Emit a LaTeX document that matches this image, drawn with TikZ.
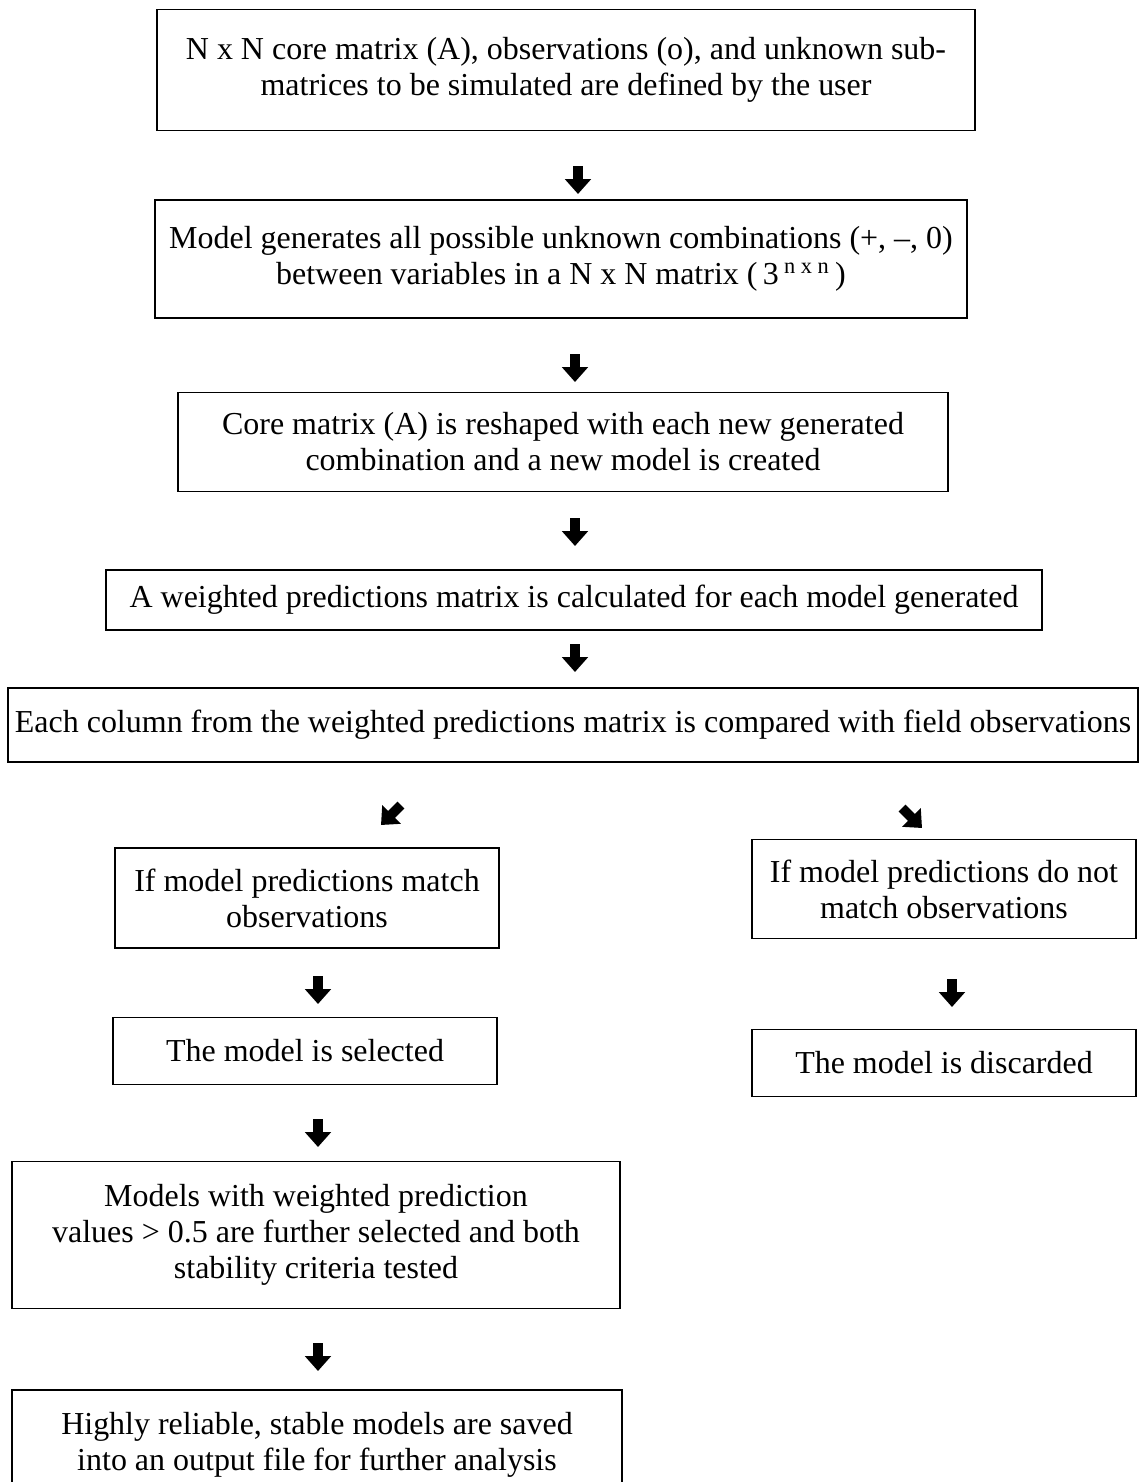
\documentclass[tikz,border=0pt]{standalone}
\usepackage{fontspec}
\setmainfont{Liberation Serif}
\usetikzlibrary{arrows.meta}

\begin{document}
\begin{tikzpicture}[x=0.02cm, y=-0.02cm,
    stepbox/.style={draw, line width=1.1pt, align=center, inner sep=0pt,
        font=\fontsize{18.2}{20.5}\selectfont},
    blk/.style={line width=5.5pt, -{Triangle[length=8.5pt, width=14.5pt]}}]
    \useasboundingbox (0,0) rectangle (1142,1482);

    % main column
    \node[stepbox, minimum width=16.36cm, minimum height=2.42cm] (def) at (566,70)
        {N x N core matrix (A), observations (o), and unknown sub-\\matrices to be simulated are defined by the user};
    \node[stepbox, minimum width=16.26cm, minimum height=2.36cm] (gen) at (561,259)
        {Model generates all possible unknown combinations (+, --, 0)\\between variables in a N x N matrix (\,3\,\textsuperscript{n x n}\,)};
    \node[stepbox, minimum width=15.4cm, minimum height=1.98cm] (resh) at (563,442)
        {Core matrix (A) is reshaped with each new generated\\combination and a new model is created};
    \node[stepbox, minimum width=18.74cm, minimum height=1.2cm] (wpm) at (574,600)
        {A weighted predictions matrix is calculated for each model generated};
    \node[stepbox, minimum width=22.6cm, minimum height=1.48cm] (comp) at (573,725)
        {Each column from the weighted predictions matrix is compared with field observations};

    % left branch
    \node[stepbox, minimum width=7.7cm, minimum height=2.0cm] (match) at (307,898)
        {If model predictions match\\observations};
    \node[stepbox, minimum width=7.7cm, minimum height=1.34cm] (sel) at (305,1051)
        {The model is selected};
    \node[stepbox, minimum width=12.18cm, minimum height=2.94cm] (stab) at (316,1235)
        {Models with weighted prediction\\values > 0.5 are further selected and both\\stability criteria tested};
    \node[stepbox, minimum width=12.22cm, minimum height=2.2cm] (save) at (317,1445)
        {Highly reliable, stable models are saved\\into an output file for further analysis};

    % right branch
    \node[stepbox, minimum width=7.68cm, minimum height=1.98cm] (nomatch) at (944,889)
        {If model predictions do not\\match observations};
    \node[stepbox, minimum width=7.68cm, minimum height=1.34cm] (disc) at (944,1063)
        {The model is discarded};

    % arrow glyphs
    \coordinate (a1s) at (578,166); \coordinate (a1e) at (578,194);
    \coordinate (a2s) at (575,354); \coordinate (a2e) at (575,382);
    \coordinate (a3s) at (575,518); \coordinate (a3e) at (575,546);
    \coordinate (a4s) at (575,644); \coordinate (a4e) at (575,672);
    \coordinate (a5s) at (401,805); \coordinate (a5e) at (381,825);
    \coordinate (a6s) at (902,808); \coordinate (a6e) at (922,828);
    \coordinate (a7s) at (318,976); \coordinate (a7e) at (318,1004);
    \coordinate (a8s) at (952,979); \coordinate (a8e) at (952,1007);
    \coordinate (a9s) at (318,1119); \coordinate (a9e) at (318,1147);
    \coordinate (a10s) at (318,1343); \coordinate (a10e) at (318,1371);

    \draw[blk] (a1s) -- (a1e);
    \draw[blk] (a2s) -- (a2e);
    \draw[blk] (a3s) -- (a3e);
    \draw[blk] (a4s) -- (a4e);
    \draw[blk] (a5s) -- (a5e);
    \draw[blk] (a6s) -- (a6e);
    \draw[blk] (a7s) -- (a7e);
    \draw[blk] (a8s) -- (a8e);
    \draw[blk] (a9s) -- (a9e);
    \draw[blk] (a10s) -- (a10e);
\end{tikzpicture}
\end{document}
